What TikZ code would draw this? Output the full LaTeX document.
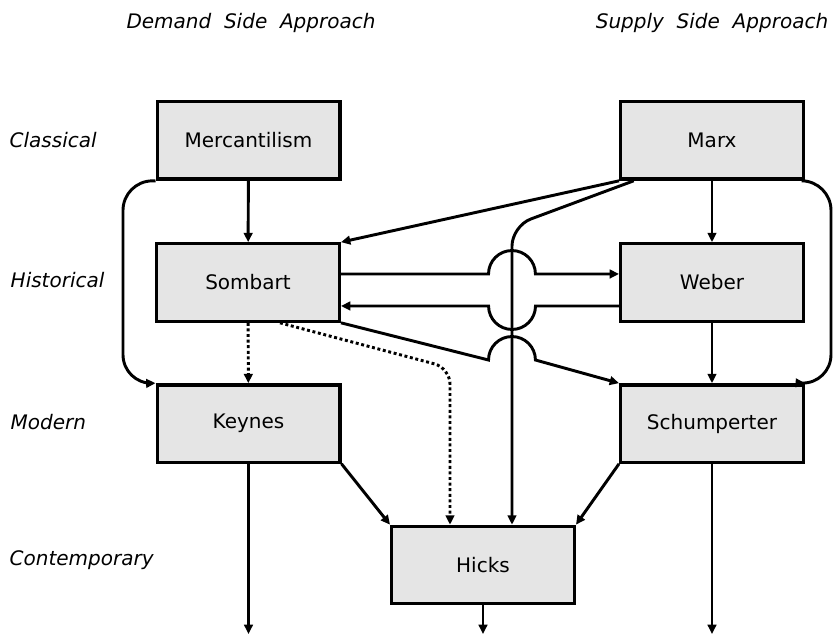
\documentclass[tikz,border=0pt]{standalone}
\usepackage{fontspec}
\setmainfont{DejaVu Sans}
\usetikzlibrary{arrows.meta}

\begin{document}
\begin{tikzpicture}[x=75pt,y=-75pt,
  school/.style={draw,line width=2.5pt,fill=black!10,minimum width=137pt,minimum height=58pt,font=\fontsize{15}{18}\selectfont},
  era/.style={anchor=west,font=\fontsize{15}{18}\selectfont\itshape},
  head/.style={font=\fontsize{15}{18}\selectfont\itshape},
  link/.style={line width=2.2pt,-{Triangle[length=7pt,width=6.5pt]}},
  dotlink/.style={link,dash pattern=on 2.2pt off 2pt}]
  \useasboundingbox (0,0) rectangle (8.33,6.35);
  % Headings
  \node[head] (demand) at (2.51,0.23) {Demand\ \ Side\ \ Approach};
  \node[head] (supply) at (7.12,0.23) {Supply\ \ Side\ \ Approach};
  % Eras
  \node[era] (classical) at (0.05,1.40) {Classical};
  \node[era] (historical) at (0.06,2.80) {Historical};
  \node[era] (modern) at (0.06,4.22) {Modern};
  \node[era] (contemp) at (0.05,5.60) {Contemporary};
  % Schools
  \node[school] (merc) at (2.485,1.405) {Mercantilism};
  \node[school] (marx) at (7.12,1.405) {Marx};
  \node[school] (sombart) at (2.48,2.825) {Sombart};
  \node[school] (weber) at (7.12,2.825) {Weber};
  \node[school] (keynes) at (2.485,4.235) {Keynes};
  \node[school] (schum) at (7.12,4.235) {Schumperter};
  \node[school] (hicks) at (4.83,5.65) {Hicks};
  % Bends and page foot
  \coordinate (mbend) at (5.12,2.26);
  \coordinate (dbend) at (4.50,3.68);
  \coordinate (foot) at (0,6.34);
  % Straight links
  \draw[link] (merc) -- (sombart);
  \draw[link] (marx) -- (weber);
  \draw[link] (weber) -- (schum);
  \draw[dotlink] (sombart) -- (keynes);
  \draw[link] (marx.south west) -- (sombart.north east);
  \draw[link] (keynes.south east) -- (hicks.north west);
  \draw[link] (schum.south west) -- (hicks.north east);
  % Side loops
  \draw[link,rounded corners=22pt] (merc.south west) -- (1.23,1.81) -- (1.23,3.84) -- (keynes.north west);
  \draw[link,rounded corners=22pt] (marx.south east) -- (8.31,1.81) -- (8.31,3.84) -- (schum.north east);
  % Marx down to Hicks
  \draw[link,rounded corners=15pt] ([xshift=11pt]marx.south west) -- (mbend) -- (mbend |- hicks.north);
  \draw[dotlink,rounded corners=12pt] ([xshift=24pt]sombart.south) -- (dbend) -- (dbend |- hicks.north);
  % Links hopping over
  \draw[link] ([yshift=6.4pt]sombart.east) -- (4.885,2.74) arc[start angle=180,end angle=0,radius=17.6pt] -- ([yshift=6.4pt]weber.west);
  \draw[link] ([yshift=-17.6pt]weber.west) -- (5.355,3.06) arc[start angle=0,end angle=-180,radius=17.6pt] -- ([yshift=-17.6pt]sombart.east);
  \draw[link] (sombart.south east) -- (4.885,3.60) arc[start angle=180,end angle=0,radius=17.6pt] -- (schum.north west);
  % Onward
  \draw[link] (keynes) -- (keynes |- foot);
  \draw[link] (hicks) -- (hicks |- foot);
  \draw[link] (schum) -- (schum |- foot);
\end{tikzpicture}
\end{document}
